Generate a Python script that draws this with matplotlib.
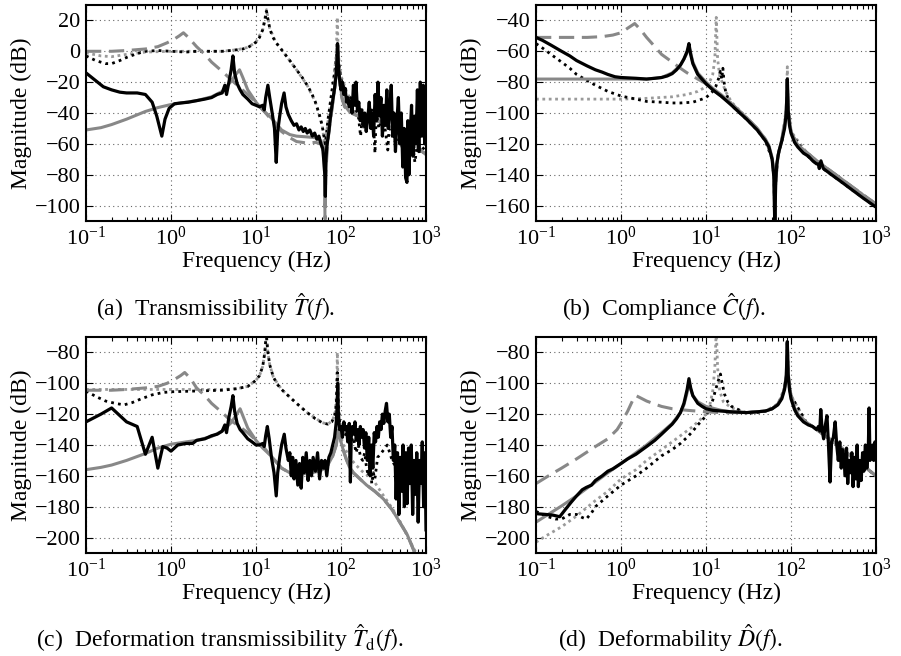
import numpy as np
import matplotlib
matplotlib.use("Agg")
import matplotlib.pyplot as plt
from matplotlib.ticker import LogLocator, LogFormatterMathtext, NullFormatter

plt.rcParams["font.family"] = ["Liberation Serif", "DejaVu Serif"]
plt.rcParams["mathtext.fontset"] = "stix"

# ---- (a) transmissibility: (frequency Hz, magnitude dB) ----
a_meas = [(0.1, -14), (0.13, -19), (0.16, -23), (0.2, -25), (0.25, -26.5), (0.3, -27), (0.4, -27),
          (0.5, -28), (0.6, -33), (0.68, -42), (0.78, -55), (0.85, -44), (0.95, -37), (1.1, -34),
          (1.3, -33.5), (1.6, -33), (2.0, -32), (2.5, -31), (3.0, -30), (3.5, -28), (4.0, -27),
          (4.3, -22), (4.5, -28), (4.8, -20), (5.1, -12), (5.35, -3), (5.6, -14), (6.0, -21),
          (6.5, -25), (7, -28), (8, -31), (9, -34), (10, -35), (11, -36), (12, -35), (12.5, -38),
          (13, -30), (13.8, -22), (14.5, -30), (15.5, -40), (16.5, -50), (17.3, -72), (18, -52),
          (19, -42), (20, -34), (21.4, -27), (22.5, -36), (24, -41), (26, -45), (28, -48),
          (30, -47), (32, -51), (34, -49), (36, -52), (38, -50), (40, -53), (43, -51), (46, -55),
          (49, -53), (52, -57), (55, -55), (58, -60), (61, -63), (63, -72), (64.5, -80),
          (65.5, -94), (66.5, -70), (68, -62), (72, -52), (76, -40), (80, -32), (84, -24),
          (88, -14), (90, -4), (91, 5), (93, -8), (96, -18), (100, -25), (104, -20), (108, -28),
          (112, -24), (116, -33), (120, -30), (125, -36), (130, -32), (135, -40), (140, -22),
          (145, -35), (150, -20), (156, -38), (162, -33), (168, -45), (175, -38), (182, -48),
          (190, -40), (198, -52), (206, -44), (215, -33), (224, -50), (233, -40), (242, -55),
          (252, -28), (262, -45), (272, -20), (283, -42), (295, -30), (307, -55), (320, -35),
          (333, -48), (346, -25), (360, -50), (375, -38), (390, -22), (405, -55), (420, -40),
          (437, -65), (455, -45), (473, -30), (492, -60), (512, -40), (533, -75), (554, -50),
          (576, -82), (597, -85), (612, -45), (630, -80), (650, -55), (676, -35), (703, -68),
          (731, -42), (761, -60), (792, -25), (824, -65), (857, -20), (892, -55), (928, -22),
          (965, -60), (1000, -38)]
a_model = [(0.1, -51), (0.15, -49.5), (0.2, -47.5), (0.3, -44), (0.5, -39), (0.7, -36.5),
           (1.0, -34.5), (1.5, -33), (2, -32), (3, -29.5), (4, -26), (5, -20), (5.8, -15),
           (6.4, -12), (7, -17), (8, -25), (10, -33), (12, -38), (15, -43), (18, -48), (20, -51),
           (25, -54), (30, -55), (40, -55.5), (50, -56), (58, -58), (62, -63), (64, -72),
           (65, -100), (66, -75), (70, -55), (78, -38), (85, -22), (89, -8), (91.5, 4), (94, -10),
           (98, -22), (103, -30), (110, -35), (125, -39), (150, -41.5), (200, -43.5), (300, -46),
           (400, -50), (500, -54), (700, -60), (1000, -67)]
a_model2 = [(0.1, 0), (0.2, 0), (0.3, 0.5), (0.5, 1.5), (0.7, 3), (0.9, 5.5), (1.1, 8), (1.25, 10),
            (1.4, 12), (1.6, 9), (2, 3), (2.5, -2), (3, -7), (4, -13), (5, -18), (6, -22), (8, -28),
            (10, -33), (13, -40), (16, -46), (20, -52), (25, -56), (30, -58.5), (40, -59.5),
            (50, -59), (58, -60), (62, -65), (64, -78), (65, -115), (66, -80), (70, -58), (78, -38),
            (85, -22), (89, -8), (91.5, 2), (94, -12), (98, -24), (103, -31), (110, -36),
            (130, -40), (200, -43.5), (300, -46), (500, -54), (700, -60), (1000, -67)]
a_sim = [(0.1, -3), (0.13, -6), (0.17, -8), (0.2, -8), (0.25, -6), (0.3, -4), (0.4, -1.5), (0.5, 0),
         (0.7, 0.5), (1, 0), (1.5, -0.5), (2, 0), (3, 0), (4, 0), (5, 0.5), (6, 1), (7, 1.5),
         (8, 2.5), (9, 4), (10, 6), (11, 9), (12, 14), (12.8, 21), (13.3, 26), (13.8, 21),
         (14.5, 15), (15.5, 10), (17, 6), (20, 1), (25, -6), (30, -12), (35, -17), (40, -22),
         (45, -27), (50, -33), (55, -40), (60, -48), (63, -55), (65, -60), (67, -55), (70, -45),
         (75, -33), (80, -22), (85, -12), (89, -2), (91, 5), (93, -3), (96, -12), (100, -18),
         (110, -25), (120, -35), (130, -30), (140, -40), (150, -38), (160, -42), (170, -55),
         (180, -40), (190, -50), (200, -45), (215, -42), (230, -38), (245, -55), (251, -66),
         (260, -40), (280, -50), (300, -45), (330, -50), (355, -64), (370, -48), (400, -55),
         (450, -60), (500, -55), (550, -70), (600, -62), (650, -55), (700, -60), (740, -72),
         (800, -58), (850, -65), (900, -62), (1000, -65)]
a_sim2 = [(0.1, -1), (0.15, -3), (0.2, -3.5), (0.3, -2), (0.5, -0.5), (1, 0), (2, 0), (4, 0),
          (6, 1), (8, 2.5), (10, 6), (12, 14), (13.3, 27), (14.5, 15), (17, 6), (20, 1), (30, -12),
          (40, -22), (50, -33), (60, -48), (65, -62), (68, -52), (75, -33), (82, -18), (87, -5),
          (89, 8), (90.5, 22), (92, 6), (95, -8), (100, -16), (120, -28), (150, -35), (200, -40),
          (300, -45), (500, -54), (1000, -66)]

# ---- (b) compliance ----
b_meas = [(0.1, -51), (0.12, -53), (0.15, -56), (0.2, -60), (0.25, -63), (0.3, -66), (0.4, -69.5),
          (0.5, -72), (0.6, -73.5), (0.7, -75), (0.85, -76.5), (1, -77), (1.5, -77.5), (2, -78),
          (2.5, -77.5), (3, -77), (3.5, -76), (4, -74.5), (4.5, -72), (5, -69), (5.5, -65),
          (6, -60), (6.3, -55), (6.6, -62), (7, -68), (8, -75), (10, -81), (12, -85), (15, -89),
          (20, -95), (25, -100), (30, -104), (40, -111), (50, -118), (55, -122), (60, -130),
          (63, -142), (64.5, -175), (66, -145), (68, -133), (72, -125), (78, -118), (84, -110),
          (88, -100), (90.5, -78), (92.5, -98), (96, -108), (100, -113), (110, -119), (120, -122),
          (140, -126), (160, -128), (180, -131), (200, -133), (210, -133), (215, -136),
          (225, -131), (240, -136), (300, -140), (400, -145), (500, -149), (700, -155),
          (1000, -161)]
b_model = [(0.1, -78), (0.5, -78), (1, -78), (2, -78), (3, -77), (4, -74), (5, -69), (5.5, -65),
           (6, -61), (6.3, -57), (6.6, -61), (7, -67), (8, -74), (10, -80), (12, -84), (15, -88),
           (20, -94), (30, -103), (40, -110), (50, -117), (55, -121), (60, -129), (63, -140),
           (64.5, -175), (66, -145), (70, -128), (78, -117), (84, -109), (88, -98), (90.5, -78),
           (92.5, -97), (96, -107), (100, -112), (120, -121), (150, -125), (200, -131),
           (300, -138), (500, -147), (700, -153), (1000, -159)]
b_model2 = [(0.1, -51), (0.2, -51), (0.4, -51), (0.6, -50.5), (0.8, -49.5), (1.0, -48), (1.2, -45),
            (1.45, -42), (1.7, -46), (2, -51), (2.5, -57), (3, -62), (4, -67), (5, -71), (6, -74),
            (8, -78), (10, -81), (12, -85), (15, -89), (20, -94), (30, -103), (40, -110),
            (50, -117), (60, -129), (63, -140), (64.5, -175), (66, -145), (70, -128), (78, -117),
            (88, -98), (90.5, -80), (92.5, -97), (100, -112), (120, -121), (150, -125),
            (200, -131), (300, -138), (500, -147), (1000, -159)]
b_sim = [(0.1, -55), (0.12, -58), (0.15, -62), (0.2, -67), (0.25, -71), (0.3, -75), (0.4, -79),
         (0.5, -82), (0.7, -86), (1, -89), (1.5, -91), (2, -92.5), (3, -93), (4, -93.5), (5, -93.5),
         (7, -93), (9, -91), (10, -90), (11, -88), (12, -86), (13, -83), (14, -78), (14.7, -73),
         (15.3, -78), (15.8, -71), (16.3, -80), (17, -86), (18, -90), (20, -95), (30, -104),
         (40, -111), (50, -118), (60, -130), (63, -142), (64.5, -170), (66, -145), (70, -128),
         (80, -116), (88, -100), (90.5, -80), (92.5, -98), (100, -113), (150, -127), (200, -133),
         (300, -140), (500, -149), (1000, -161)]
b_sim2 = [(0.1, -91), (0.3, -91), (1, -91), (2, -90.5), (4, -89.5), (6, -88), (8, -86), (10, -83),
          (11, -80), (12, -75), (12.7, -65), (13.2, -38), (13.7, -65), (14.5, -76), (15.5, -80),
          (17, -86), (20, -93), (30, -103), (40, -110), (50, -117), (60, -129), (63, -140),
          (64.5, -175), (66, -145), (70, -128), (80, -116), (88, -98), (90.5, -70), (92.5, -97),
          (100, -112), (150, -125), (200, -131), (300, -138), (500, -147), (1000, -159)]

# ---- (c) deformation transmissibility ----
c_meas = [(0.1, -125), (0.15, -120), (0.2, -116), (0.25, -121), (0.3, -125), (0.4, -128),
          (0.5, -146), (0.6, -135), (0.7, -155), (0.8, -141), (0.9, -142), (1.0, -144),
          (1.2, -140), (1.5, -139), (1.8, -139), (2, -137), (2.5, -136), (3, -134), (3.5, -133),
          (4, -131), (4.3, -127), (4.5, -132), (4.8, -122), (5.1, -115), (5.35, -108), (5.6, -118),
          (6, -126), (6.5, -130), (7, -132), (8, -136), (9, -138), (10, -140), (11, -140),
          (12, -139), (12.5, -141), (13, -134), (13.6, -128), (14.3, -136), (15.2, -148),
          (16.3, -158), (17.3, -173), (18, -158), (19, -148), (20, -140), (21.5, -133),
          (22.5, -142), (24, -150), (25, -145), (26, -160), (27, -148), (28, -162), (29.5, -150),
          (31, -166), (32.5, -152), (34, -168), (35.5, -148), (37, -158), (39, -145), (41, -163),
          (43, -150), (45, -160), (47, -148), (50, -157), (53, -145), (56, -162), (59, -150),
          (62, -155), (65, -150), (68, -160), (72, -148), (76, -145), (80, -140), (84, -135),
          (88, -125), (90, -115), (91.5, -100), (93, -118), (96, -130), (100, -128), (104, -135),
          (108, -125), (112, -130), (116, -128), (120, -138), (125, -126), (129, -164),
          (132, -135), (136, -128), (141, -133), (146, -125), (151, -137), (157, -130),
          (163, -140), (169, -128), (175, -135), (182, -130), (189, -142), (196, -132),
          (204, -150), (212, -135), (220, -160), (228, -140), (237, -155), (246, -132),
          (255, -138), (265, -128), (275, -135), (285, -125), (296, -130), (307, -120),
          (319, -126), (331, -118), (343, -113), (356, -125), (370, -120), (384, -135),
          (398, -128), (413, -150), (429, -140), (445, -175), (462, -145), (480, -185),
          (498, -148), (517, -170), (537, -140), (557, -180), (578, -145), (600, -178),
          (623, -142), (647, -165), (671, -140), (697, -185), (723, -150), (751, -172),
          (779, -145), (809, -190), (840, -150), (871, -165), (904, -138), (938, -180),
          (974, -145), (1000, -195)]
c_model = [(0.1, -156), (0.15, -154.5), (0.2, -153), (0.3, -150), (0.5, -145.5), (0.7, -142),
           (1, -139.5), (1.5, -138), (2, -137), (3, -134.5), (4, -131), (5, -126), (5.8, -121),
           (6.5, -116.5), (7, -121), (8, -129), (10, -137), (12, -142), (15, -147), (18, -152),
           (20, -155), (25, -158), (30, -158.5), (40, -158.5), (50, -157.5), (60, -156),
           (70, -153), (80, -147), (88, -140), (92, -133), (94, -130), (96, -133), (100, -138),
           (106, -143), (115, -149), (125, -154), (140, -158), (160, -161), (200, -166),
           (250, -170), (316, -175), (400, -182), (490, -190), (600, -198), (740, -210),
           (800, -214)]
c_model2 = [(0.1, -104.5), (0.2, -104.5), (0.3, -104), (0.5, -103), (0.7, -102), (0.9, -100),
            (1.1, -97.5), (1.3, -95), (1.45, -93), (1.7, -97), (2, -103), (2.5, -108), (3, -113),
            (4, -119), (5, -124), (6, -127), (8, -132), (10, -137), (13, -143), (16, -149),
            (20, -155), (25, -158), (30, -158.5), (40, -158.5), (50, -157.5), (60, -156),
            (70, -153), (80, -147), (88, -140), (92, -133), (94, -131), (96, -134), (100, -138),
            (106, -143), (115, -149), (125, -154), (140, -158), (160, -161), (200, -166),
            (250, -170), (316, -175), (400, -182), (490, -190), (600, -198), (740, -210),
            (800, -214)]
c_sim = [(0.1, -105), (0.13, -108.5), (0.17, -111.5), (0.22, -113), (0.28, -114), (0.35, -112.5),
         (0.45, -110), (0.6, -107.5), (0.8, -106), (1, -105.5), (2, -105), (4, -104.5),
         (6, -103.5), (8, -102), (9, -100), (10, -98), (11, -95), (12, -89), (12.7, -80),
         (13.2, -68), (13.8, -80), (14.5, -88), (16, -96), (18, -101), (20, -104), (25, -109),
         (30, -113), (40, -119), (50, -123), (60, -125.5), (70, -126.5), (78, -125), (84, -121),
         (88, -114), (90.5, -93), (92.5, -112), (96, -125), (100, -132), (110, -135), (120, -130),
         (130, -138), (140, -135), (150, -145), (160, -140), (170, -148), (180, -150),
         (190, -145), (200, -155), (210, -160), (220, -150), (230, -165), (240, -158),
         (250, -162), (270, -148), (300, -145), (350, -140), (400, -150), (500, -160),
         (700, -165), (1000, -170)]
c_sim2 = [(0.1, -104), (0.3, -104), (1, -104), (2, -104), (4, -104), (6, -103.5), (8, -102),
          (10, -98), (11, -95), (12, -89), (12.7, -80), (13.2, -68), (13.8, -80), (14.5, -88),
          (16, -96), (20, -104), (30, -113), (40, -119), (60, -125.5), (70, -126.5), (80, -124),
          (86, -118), (89, -105), (90.5, -80), (92.5, -105), (96, -125), (100, -135),
          (110, -142), (130, -149), (150, -153), (177, -157), (235, -162), (300, -171),
          (400, -181), (500, -190), (700, -206), (800, -212)]

# ---- (d) deformability ----
d_meas = [(0.1, -184.5), (0.13, -185), (0.16, -185.5), (0.19, -186.5), (0.22, -182), (0.26, -177),
          (0.3, -173), (0.35, -169), (0.39, -167.5), (0.45, -166), (0.5, -163), (0.6, -160),
          (0.7, -157), (0.8, -155.5), (1.0, -152), (1.2, -149), (1.5, -146), (2, -141),
          (2.5, -137), (3, -133), (3.5, -129.5), (4, -126.5), (4.5, -123), (5, -119), (5.5, -113),
          (6, -104), (6.3, -97), (6.6, -103), (7, -108), (8, -113), (9, -115), (10, -116.5),
          (12, -117.5), (15, -118), (20, -118.5), (30, -119), (40, -118.5), (50, -118),
          (60, -116.5), (70, -114), (78, -110), (84, -104), (88, -96), (90.5, -73), (92.5, -94),
          (96, -104), (100, -110), (110, -117), (120, -121), (140, -125), (160, -127),
          (180, -128), (200, -130), (210, -128), (218, -131), (224, -117), (232, -130),
          (242, -136), (252, -128), (265, -121), (276, -140), (288, -164), (300, -138),
          (315, -135), (331, -125), (345, -140), (360, -150), (375, -138), (390, -155),
          (405, -143), (420, -150), (435, -160), (450, -142), (465, -165), (480, -150),
          (500, -158), (520, -145), (537, -167), (560, -148), (580, -162), (600, -140),
          (620, -167), (645, -150), (670, -163), (695, -145), (720, -157), (750, -140),
          (780, -155), (810, -145), (830, -116), (850, -150), (880, -148), (910, -140),
          (940, -150), (970, -138), (1000, -142)]
d_model = [(0.1, -190), (0.13, -186), (0.2, -179.5), (0.3, -173), (0.5, -164), (0.7, -158),
           (1, -152), (1.5, -145), (2, -140), (3, -132), (4, -126), (5, -119), (5.5, -114),
           (6, -106), (6.3, -99), (6.6, -104), (7, -108), (8, -112), (10, -115), (15, -117.5),
           (20, -118.5), (30, -119), (50, -118), (60, -116.5), (70, -113.5), (78, -109),
           (84, -103), (88, -95), (90.5, -74), (92.5, -93), (96, -103), (100, -108), (110, -116),
           (120, -120), (150, -125), (200, -130), (300, -137), (400, -142), (500, -147),
           (700, -153), (1000, -160)]
d_model2 = [(0.1, -165), (0.15, -159), (0.2, -155), (0.3, -149), (0.5, -141), (0.7, -136),
            (0.9, -130), (1.0, -126), (1.2, -118), (1.4, -110), (1.5, -108), (1.7, -109.5),
            (2, -111.5), (2.5, -113.5), (3, -115), (4, -116.5), (6, -117.5), (10, -118.5),
            (15, -119), (20, -119), (30, -119), (50, -118), (60, -116.5), (70, -113.5),
            (78, -109), (84, -103), (88, -95), (90.5, -74), (92.5, -93), (96, -103), (100, -108),
            (120, -120), (150, -125), (200, -130), (300, -137), (500, -147), (1000, -160)]
d_sim = [(0.1, -183), (0.13, -186), (0.17, -188), (0.2, -188), (0.25, -185), (0.3, -185),
         (0.35, -187), (0.39, -188), (0.45, -184), (0.5, -180), (0.7, -173), (1, -166),
         (1.5, -160), (2, -155), (3, -147), (4, -143), (5, -139), (6, -135), (7, -131), (8, -127),
         (9, -124), (10, -121), (11, -117), (12, -111), (13, -104), (14, -98), (14.8, -94),
         (15.5, -100), (16.5, -107), (18, -112), (20, -115), (25, -117.5), (30, -119.5),
         (40, -119), (50, -118), (60, -116.5), (70, -113.5), (78, -109), (84, -103), (88, -95),
         (90.5, -76), (92.5, -93), (96, -103), (100, -108), (150, -125), (200, -130),
         (300, -137), (500, -147), (1000, -160)]
d_sim2 = [(0.1, -203), (0.13, -199), (0.2, -193), (0.3, -186), (0.5, -176), (0.7, -170),
          (1, -162), (1.5, -156), (2, -150), (3, -143), (5, -134), (7, -128), (10, -120),
          (11, -115), (12, -105), (12.7, -90), (13.2, -65), (13.7, -90), (14.5, -105), (16, -112),
          (20, -116), (30, -119), (50, -118), (70, -113.5), (84, -103), (88, -95), (90.5, -76),
          (92.5, -93), (100, -108), (150, -125), (300, -137), (1000, -160)]

panels = [
    (a_meas, a_model, a_model2, a_sim, a_sim2, (-110, 30), np.arange(-100, 21, 20),
     r"(a)  Transmissibility $\hat{T}(f)$."),
    (b_meas, b_model, b_model2, b_sim, b_sim2, (-170, -30), np.arange(-160, -39, 20),
     r"(b)  Compliance $\hat{C}(f)$."),
    (c_meas, c_model, c_model2, c_sim, c_sim2, (-210, -70), np.arange(-200, -79, 20),
     r"(c)  Deformation transmissibility $\hat{T}_{\mathrm{d}}(f)$."),
    (d_meas, d_model, d_model2, d_sim, d_sim2, (-210, -70), np.arange(-200, -79, 20),
     r"(d)  Deformability $\hat{D}(f)$."),
]

W, H = 901, 656
fig = plt.figure(figsize=(W / 100, H / 100), dpi=100)
ax_boxes = [(86, 5), (536, 5), (86, 337), (536, 337)]
cap_pos = [(216, 307), (664, 307), (220, 638), (670, 638)]

grey = "#888888"
for (meas, model, model2, sim, sim2, ylim, yt, cap), (px, py), (cx, cy) in zip(panels, ax_boxes, cap_pos):
    ax = fig.add_axes([px / W, 1 - (py + 216) / H, 340 / W, 216 / H])
    f, m = np.array(sim2).T
    ax.semilogx(f, m, color="#9a9a9a", lw=2.0, ls=(0, (1, 1.3)))
    f, m = np.array(sim).T
    ax.semilogx(f, m, color="black", lw=2.0, ls=(0, (1, 1.5)))
    f, m = np.array(model2).T
    ax.semilogx(f, m, color=grey, lw=2.2, ls=(0, (5, 2.5)))
    f, m = np.array(model).T
    ax.semilogx(f, m, color=grey, lw=2.2)
    f, m = np.array(meas).T
    ax.semilogx(f, m, color="black", lw=2.3)

    ax.set_xlim(0.1, 1000)
    ax.set_ylim(*ylim)
    ax.set_yticks(yt)
    ax.xaxis.set_major_locator(LogLocator(base=10, numticks=10))
    ax.xaxis.set_minor_locator(LogLocator(base=10, subs=np.arange(2, 10), numticks=50))
    ax.xaxis.set_major_formatter(LogFormatterMathtext())
    ax.xaxis.set_minor_formatter(NullFormatter())
    ax.tick_params(which="both", direction="in", top=True, right=True, labelsize=16, width=0.8)
    ax.tick_params(which="major", length=5, pad=4)
    ax.tick_params(which="minor", length=3)
    ax.grid(True, which="major", color="#666666", ls=(0, (1, 3)), lw=0.8)
    for s in ax.spines.values():
        s.set_linewidth(1.5)
    ax.set_xlabel("Frequency (Hz)", fontsize=17, labelpad=1)
    ax.set_ylabel("Magnitude (dB)", fontsize=17, labelpad=2)
    fig.text(cx / W, 1 - cy / H, cap, ha="center", va="center", fontsize=17)

fig.savefig("out.png", dpi=100)
